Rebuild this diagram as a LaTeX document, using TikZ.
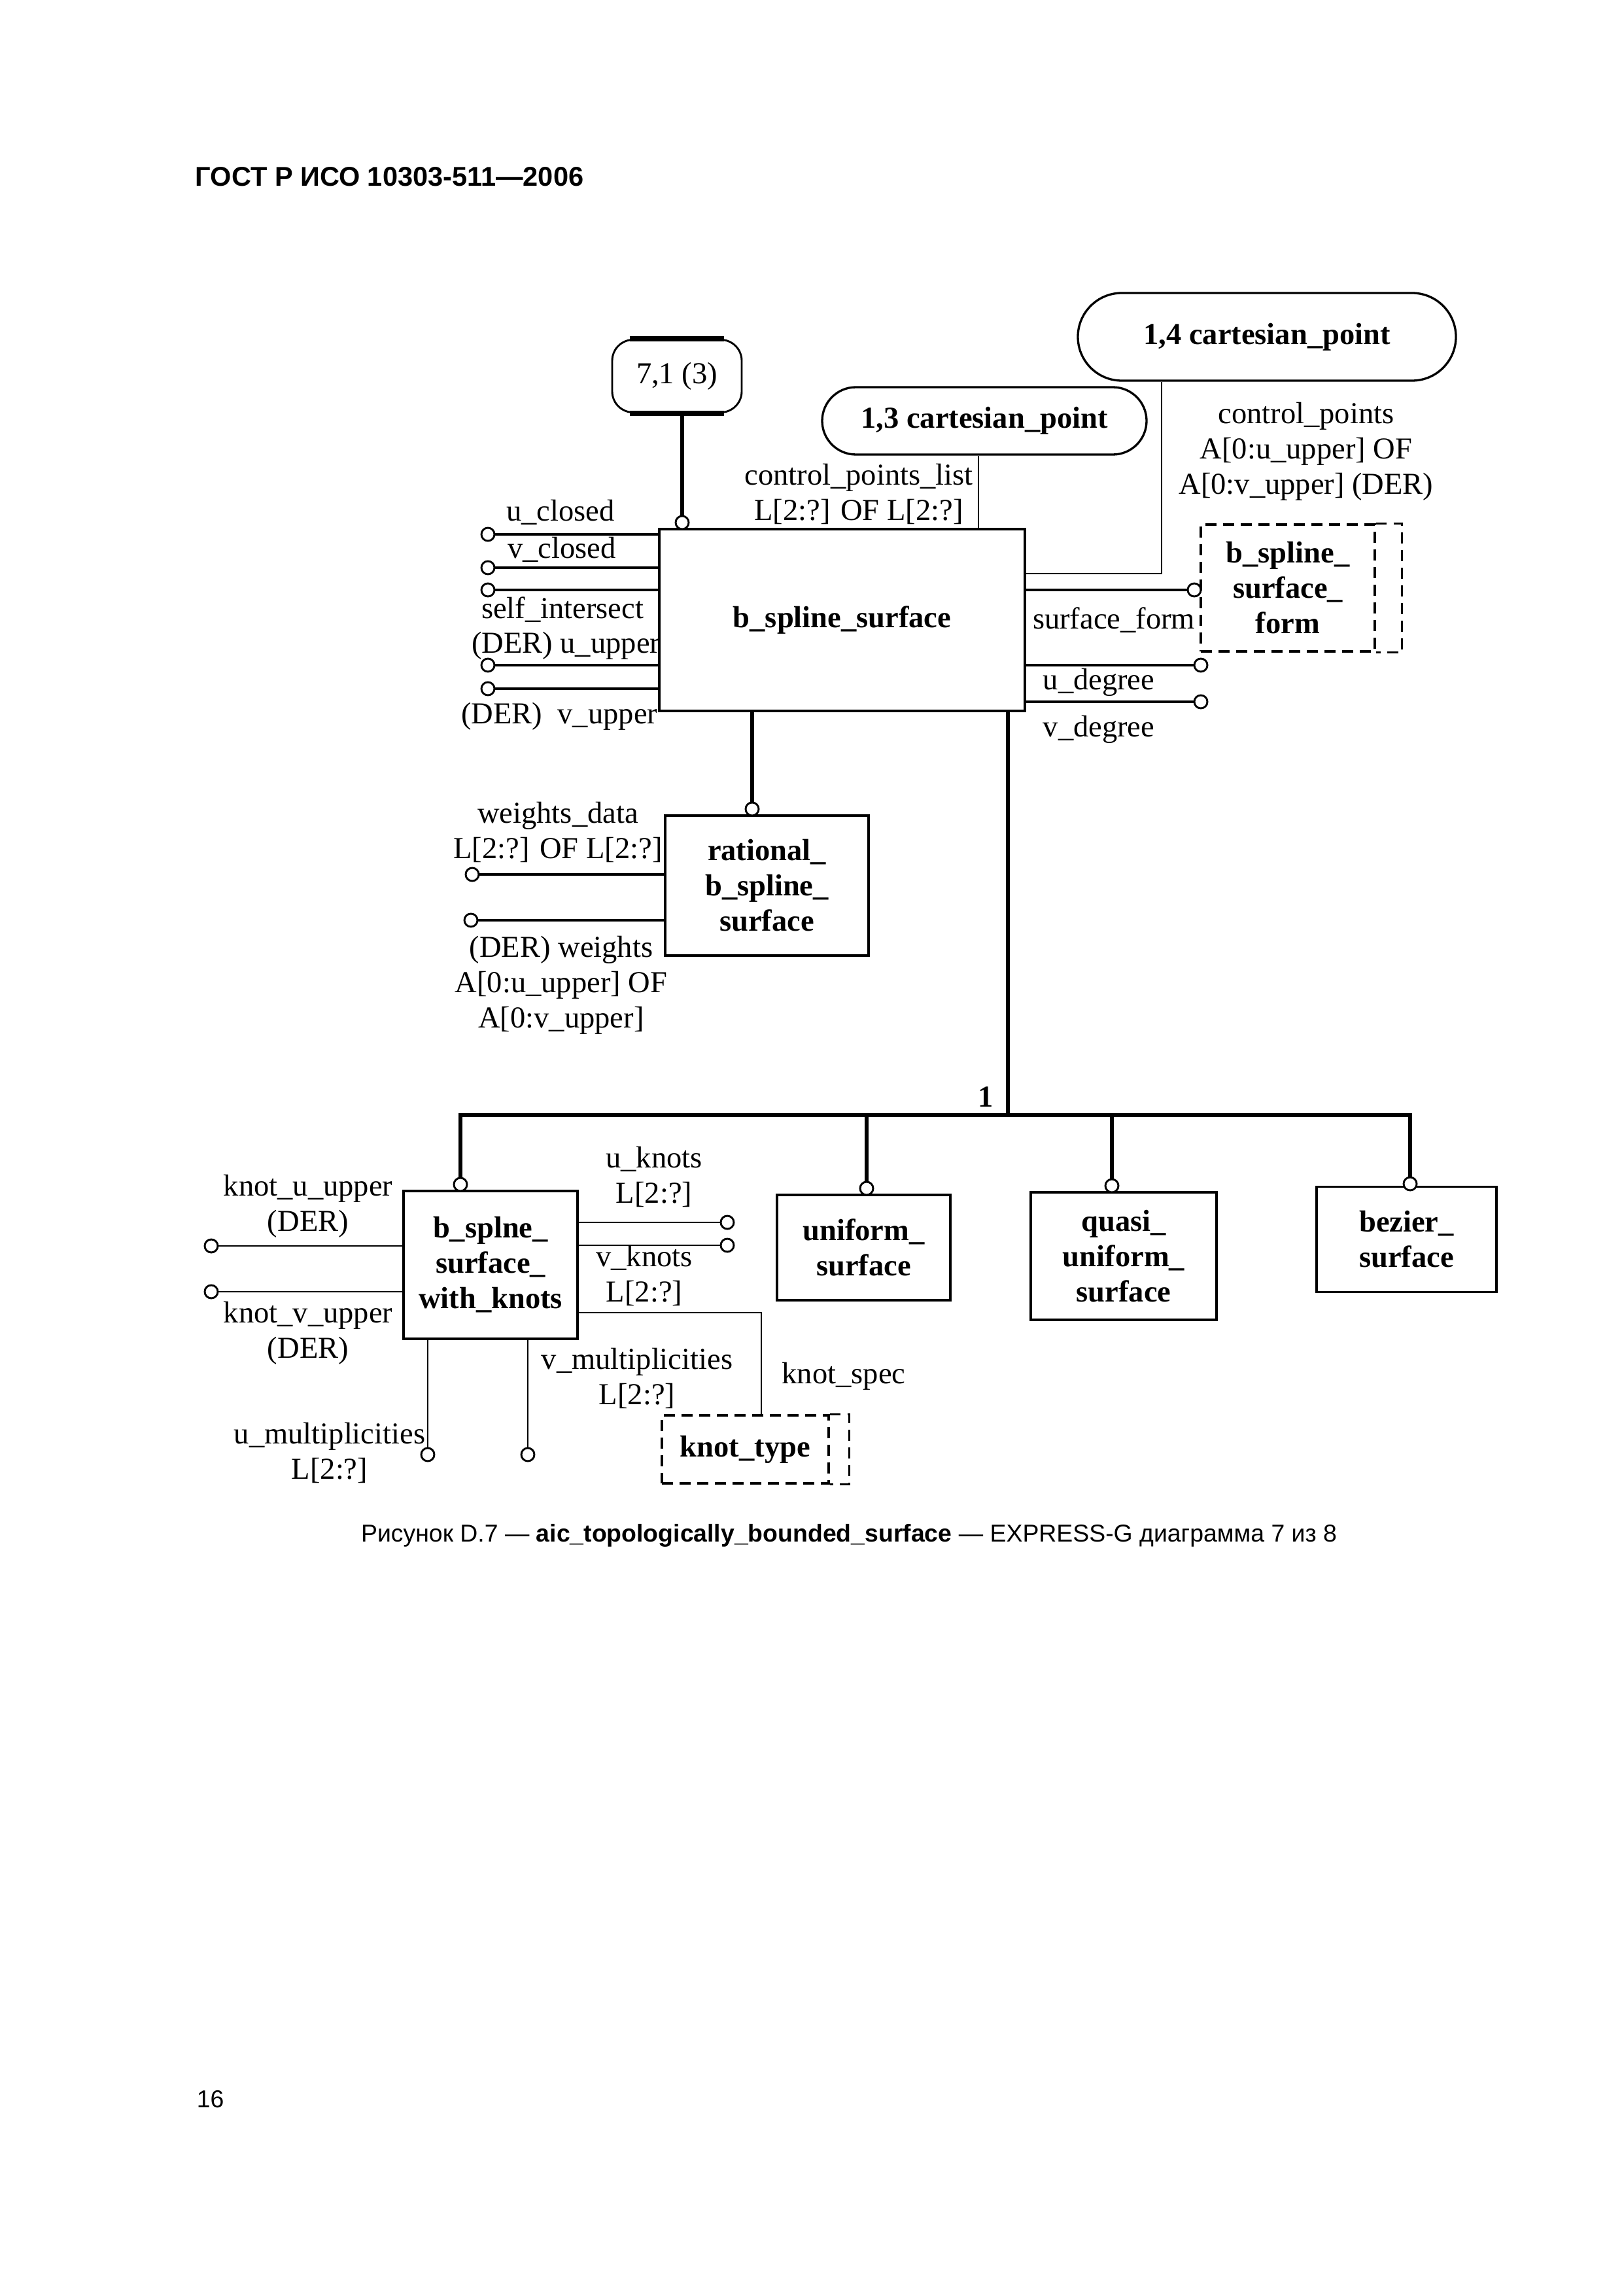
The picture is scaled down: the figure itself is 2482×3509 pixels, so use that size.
\documentclass[tikz,border=0pt]{standalone}
\usepackage{fontspec}
\setmainfont{Liberation Serif}
\newfontfamily\gostfont{Liberation Sans}
\usetikzlibrary{positioning,shapes.misc}
\newdimen\pxu \pxu=0.084609mm
\newcommand\dsize{\fontsize{11.2}{13}\selectfont}
\tikzset{
  ent/.style={draw, line width=0.9pt, font=\bfseries\dsize, align=center, inner sep=0pt},
  tbox/.style={draw, line width=0.8pt, dash pattern=on 4pt off 2.5pt, font=\bfseries\dsize, align=center, inner sep=0pt},
  tline/.style={line width=0.8pt, dash pattern=on 4pt off 2.5pt},
  lbl/.style={font=\dsize, align=center, inner sep=0pt},
  ring/.style={draw, circle, line width=0.7pt, fill=white, inner sep=0pt, minimum size=20\pxu},
  rel/.style={line width=1.3pt},
  att/.style={line width=0.9pt},
  thin/.style={line width=0.55pt},
}
\begin{document}
\begin{tikzpicture}[x=0.084609mm, y=-0.084609mm]
  \useasboundingbox (0,0) rectangle (2482,3509);
  \node[anchor=base west, inner sep=0pt, font=\gostfont\bfseries\fontsize{10}{12}\selectfont] (HDR) at (298,285) {ГОСТ Р ИСО 10303-511—2006};

  \node[draw, line width=0.7pt, rounded corners=32\pxu, minimum width=198\pxu, minimum height=111\pxu, inner sep=0pt, font=\dsize] (PR) at (1035,575) {7,1 (3)};
  \draw[line width=2pt] ([xshift=28\pxu]PR.north west) -- ([xshift=-28\pxu]PR.north east);
  \draw[line width=2pt] ([xshift=28\pxu]PR.south west) -- ([xshift=-28\pxu]PR.south east);
  \node[ent, rounded rectangle, line width=0.8pt, minimum width=496\pxu, minimum height=103\pxu] (CPT) at (1505,643.5) {1,3 cartesian\_point};
  \node[ent, rounded rectangle, line width=0.8pt, minimum width=578\pxu, minimum height=134\pxu] (CPF) at (1937,515) {1,4 cartesian\_point};

  \node[ent, minimum width=559\pxu, minimum height=278\pxu] (BSS) at (1287.5,948) {b\_spline\_surface};
  \node[tbox, minimum width=266\pxu, minimum height=194\pxu] (BSF) at (1969,899) {b\_spline\_\\surface\_\\form};
  \draw[tline] (BSF.north east) -- ([xshift=40\pxu]BSF.north east) -- ([xshift=40\pxu]BSF.south east) -- (BSF.south east);
  \node[ent, minimum width=311\pxu, minimum height=214\pxu] (RBS) at (1172.5,1354) {rational\_\\b\_spline\_\\surface};

  \node[ent, minimum width=266\pxu, minimum height=226\pxu] (BSK) at (750,1934) {b\_splne\_\\surface\_\\with\_knots};
  \node[ent, minimum width=265\pxu, minimum height=161\pxu] (US) at (1320.5,1907.5) {uniform\_\\surface};
  \node[ent, minimum width=284\pxu, minimum height=195\pxu] (QUS) at (1718,1920.5) {quasi\_\\uniform\_\\surface};
  \node[ent, minimum width=275\pxu, minimum height=161\pxu] (BZS) at (2150.5,1895) {bezier\_\\surface};
  \node[tbox, minimum width=255\pxu, minimum height=104\pxu] (KT) at (1139.5,2216) {knot\_type};
  \draw[tline] (KT.north east) -- ([xshift=30\pxu]KT.north east) -- ([xshift=30\pxu]KT.south east) -- (KT.south east);

  \node[ring] (c71) at (1043,799) {};
  \draw[rel] (c71) -- (c71 |- PR.south);
  \coordinate (CL) at (1496,809);
  \draw[thin] (CL) -- (CL |- CPT.south);
  \coordinate (CR) at (1776,877);
  \draw[thin] (CR -| BSS.east) -- (CR) -- (CR |- CPF.south);

  \node[ring] (cUC) at (746,817) {};
  \node[ring] (cVC) at (746,868) {};
  \node[ring] (cSI) at (746,902) {};
  \node[ring] (cUU) at (746,1017) {};
  \node[ring] (cVU) at (746,1053) {};
  \draw[att] (cUC) -- (cUC -| BSS.west);
  \draw[att] (cVC) -- (cVC -| BSS.west);
  \draw[att] (cSI) -- (cSI -| BSS.west);
  \draw[att] (cUU) -- (cUU -| BSS.west);
  \draw[att] (cVU) -- (cVU -| BSS.west);
  \node[ring] (cSF) at (1826,902) {};
  \node[ring] (cUD) at (1836,1017) {};
  \node[ring] (cVD) at (1836,1073) {};
  \draw[att] (cSF) -- (cSF -| BSS.east);
  \draw[att] (cUD) -- (cUD -| BSS.east);
  \draw[att] (cVD) -- (cVD -| BSS.east);

  \node[ring] (cRB) at (1150,1237) {};
  \draw[rel] (cRB) -- (cRB |- BSS.south);
  \node[ring] (cWD) at (722,1337) {};
  \node[ring] (cWT) at (720,1407) {};
  \draw[att] (cWD) -- (cWD -| RBS.west);
  \draw[att] (cWT) -- (cWT -| RBS.west);

  \coordinate (H) at (1541,1705);
  \node[ring] (cBK) at (704,1811) {};
  \node[ring] (cUS) at (1325,1817) {};
  \node[ring] (cQU) at (1700,1813) {};
  \node[ring] (cBZ) at (2156,1810) {};
  \draw[rel] (H |- BSS.south) -- (H);
  \draw[rel] (cBK) -- (cBK |- H) -- (cBZ |- H) -- (cBZ);
  \draw[rel] (cUS) -- (cUS |- H);
  \draw[rel] (cQU) -- (cQU |- H);
  \node[lbl, font=\bfseries\dsize] (ONE) at (1507,1677) {1};

  \node[ring] (cUK) at (1112,1869) {};
  \node[ring] (cVK) at (1112,1904) {};
  \node[ring] (cKU) at (323,1905) {};
  \node[ring] (cKV) at (323,1975) {};
  \node[ring] (cUM) at (654,2224) {};
  \node[ring] (cVM) at (807,2224) {};
  \draw[thin] (cUK) -- (cUK -| BSK.east);
  \draw[thin] (cVK) -- (cVK -| BSK.east);
  \draw[thin] (cKU) -- (cKU -| BSK.west);
  \draw[thin] (cKV) -- (cKV -| BSK.west);
  \draw[thin] (cUM) -- (cUM |- BSK.south);
  \draw[thin] (cVM) -- (cVM |- BSK.south);
  \coordinate (KS) at (1164,2007);
  \draw[thin] (KS -| BSK.east) -- (KS) -- (KS |- KT.north);

  \node[lbl] (LUC) at (857,783) {u\_closed};
  \node[lbl] (LVC) at (859,840) {v\_closed};
  \node[lbl] (LSI) at (860,932) {self\_intersect};
  \node[lbl, anchor=east] (LUU) at (1010,987) {(DER) u\_upper};
  \node[lbl, anchor=east] (LVU) at (1006,1095) {(DER)\ \ v\_upper};
  \node[lbl] (LCL) at (1313,755) {control\_points\_list\\L[2:?] OF L[2:?]};
  \node[lbl] (LCP) at (1997,690) {control\_points\\A[0:u\_upper] OF\\A[0:v\_upper] (DER)};
  \node[lbl] (LSF) at (1703,948) {surface\_form};
  \node[lbl] (LUD) at (1680,1043) {u\_degree};
  \node[lbl] (LVD) at (1680,1115) {v\_degree};
  \node[lbl] (LWD) at (853,1272) {weights\_data\\L[2:?] OF L[2:?]};
  \node[lbl] (LWT) at (858,1506) {(DER) weights\\A[0:u\_upper] OF\\A[0:v\_upper]};
  \node[lbl] (LKU) at (471,1844) {knot\_u\_upper\\(DER)};
  \node[lbl] (LKV) at (471,2038) {knot\_v\_upper\\(DER)};
  \node[lbl] (LUK) at (1000,1799) {u\_knots\\L[2:?]};
  \node[lbl] (LVK) at (985,1950) {v\_knots\\L[2:?]};
  \node[lbl] (LVM) at (974,2107) {v\_multiplicities\\L[2:?]};
  \node[lbl] (LKS) at (1290,2104) {knot\_spec};
  \node[lbl] (LUM) at (504,2221) {u\_multiplicities\\L[2:?]};

  \node[anchor=base, inner sep=0pt, font=\gostfont\fontsize{9}{11}\selectfont] (CAP) at (1298,2357) {Рисунок D.7 — {\bfseries aic\_topologically\_bounded\_surface} — EXPRESS-G диаграмма 7 из 8};
  \node[anchor=base west, inner sep=0pt, font=\gostfont\fontsize{9}{11}\selectfont] (PG) at (300,3222) {16};
\end{tikzpicture}
\end{document}
